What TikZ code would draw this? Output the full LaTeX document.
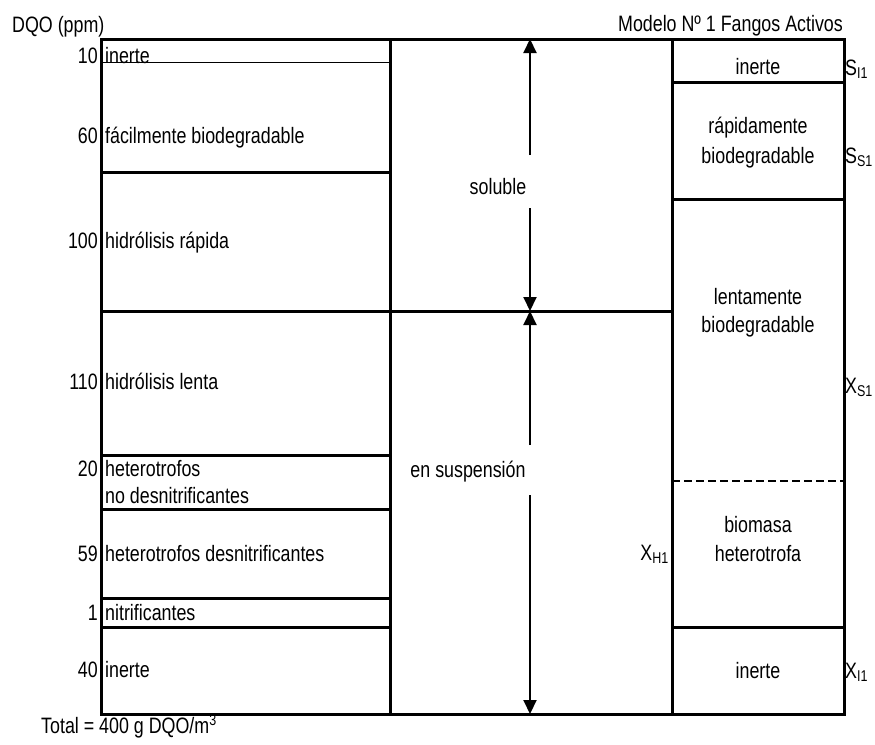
\documentclass[tikz,border=0pt]{standalone}
\usepackage{fontspec}
\setmainfont{Liberation Sans}[FakeStretch=0.8]
\usetikzlibrary{arrows.meta}

\begin{document}
\begin{tikzpicture}[x=1pt,y=-1pt,
  frame/.style={line width=3pt, line join=miter},
  thinrule/.style={line width=1pt},
  dashrule/.style={line width=2.5pt, dash pattern=on 8pt off 4pt},
  arr/.style={line width=2pt, -{Triangle[width=13pt,length=14pt]}},
  lbl/.style={inner sep=0pt, font=\fontsize{22.3}{29}\selectfont},
  num/.style={lbl, anchor=base east},
  txt/.style={lbl, anchor=base west, align=left},
  ctr/.style={lbl, anchor=base, align=center},
  sym/.style={lbl, anchor=base west},
]
\useasboundingbox (0,0) rectangle (875,744);

% outer frame and column separators
\draw[frame] (101,39) rectangle (844,714);
\draw[frame] (390,39) -- (390,714);
\draw[frame] (672,39) -- (672,714);

% left column: fractions of the influent COD
\draw[thinrule] (101,62) -- (390,62);
\foreach \yy in {172,455,509,598,627} \draw[frame] (101,\yy) -- (390,\yy);
\draw[frame] (101,311) -- (672,311);

% right column: model state variables
\foreach \yy in {82,199,627} \draw[frame] (672,\yy) -- (844,\yy);
\draw[dashrule] (672,481) -- (844,481);

% headings
\node[sym] (hdq) at (12,32) {DQO (ppm)};
\node[lbl, anchor=base east] (hmod) at (843,31) {Modelo Nº 1 Fangos Activos};
\node[sym] (htot) at (41,733) {Total = 400 g DQO/m\textsuperscript{3}};

% values and fraction names (multi-line nodes sit on their last baseline)
\node[num] (n1) at (98,63) {10};
\node[txt] (t1) at (105,63) {inerte};
\node[num] (n2) at (98,143) {60};
\node[txt] (t2) at (105,143) {fácilmente biodegradable};
\node[num] (n3) at (98,248) {100};
\node[txt] (t3) at (105,248) {hidrólisis rápida};
\node[num] (n4) at (98,389) {110};
\node[txt] (t4) at (105,389) {hidrólisis lenta};
\node[num] (n5) at (98,476) {20};
\node[txt, font=\fontsize{22.3}{27}\selectfont] (t5) at (105,503) {heterotrofos\\no desnitrificantes};
\node[num] (n6) at (98,561) {59};
\node[txt] (t6) at (105,561) {heterotrofos desnitrificantes};
\node[num] (n7) at (98,620) {1};
\node[txt] (t7) at (105,620) {nitrificantes};
\node[num] (n8) at (98,677) {40};
\node[txt] (t8) at (105,677) {inerte};

% middle column labels
\node[ctr] (sol) at (498,194) {soluble};
\node[ctr] (susp) at (468,477) {en suspensión};
\node[lbl, anchor=base east] (xh) at (669,560) {X\textsubscript{H1}};

% right column labels
\node[ctr] (r1) at (758,74) {inerte};
\node[ctr, font=\fontsize{22.3}{30}\selectfont] (r2) at (758,163) {rápidamente\\biodegradable};
\node[ctr, font=\fontsize{22.3}{28}\selectfont] (r3) at (758,332) {lentamente\\biodegradable};
\node[ctr] (r4) at (758,561) {biomasa\\heterotrofa};
\node[ctr] (r5) at (758,678) {inerte};

\node[sym] (si) at (845,75) {S\textsubscript{I1}};
\node[sym] (ss) at (845,163) {S\textsubscript{S1}};
\node[sym] (xs) at (845,393) {X\textsubscript{S1}};
\node[sym] (xi) at (845,678) {X\textsubscript{I1}};

% range arrows
\coordinate (aTop) at (530,39);
\coordinate (aSolA) at (530,155);
\coordinate (aSolB) at (530,208);
\coordinate (aMid) at (530,311);
\coordinate (aSusA) at (530,445);
\coordinate (aSusB) at (530,495);
\coordinate (aBot) at (530,714);
\draw[arr] (aSolA) -- (aTop);
\draw[arr] (aSolB) -- (aMid);
\draw[arr] (aSusA) -- (aMid);
\draw[arr] (aSusB) -- (aBot);
\end{tikzpicture}
\end{document}
